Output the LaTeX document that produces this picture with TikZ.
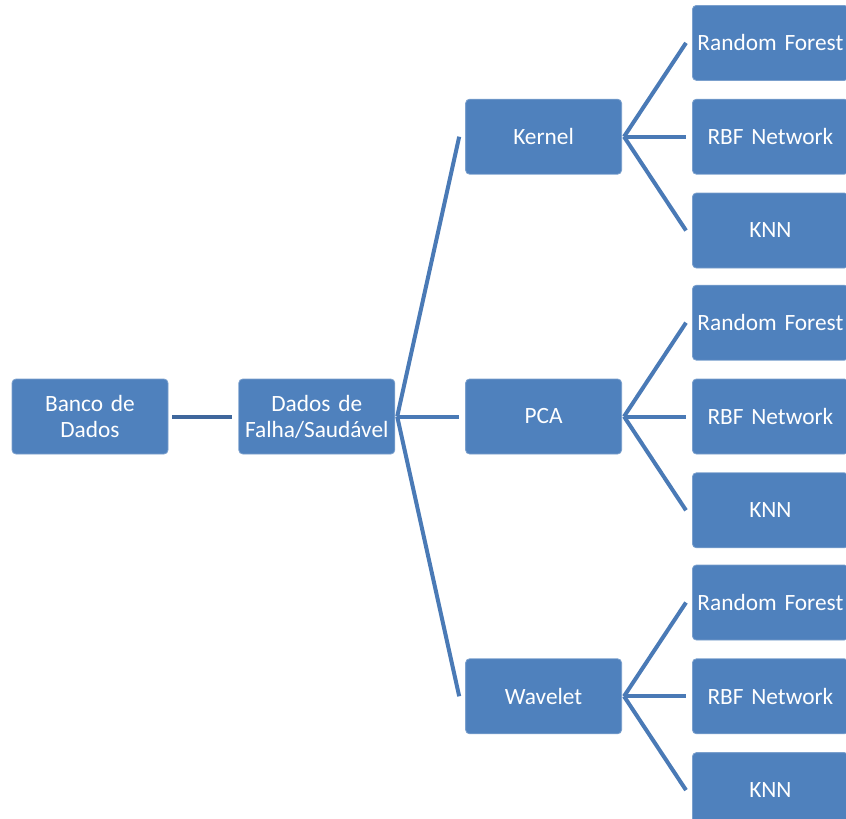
\documentclass[tikz,border=0pt]{standalone}
\usepackage{fontspec}
\setmainfont{Carlito}
\usetikzlibrary{positioning}
\definecolor{boxblue}{HTML}{4F81BD}
\definecolor{forkblue}{HTML}{4A7AB6}
\definecolor{rootblue}{HTML}{3F679C}
\tikzset{
	etapa/.style={
		rectangle,
		rounded corners=3pt,
		fill=boxblue,
		draw=boxblue!75!white, line width=0.6pt,
		text=white,
		font=\fontsize{17.5}{19.5}\selectfont,
		inner xsep=1pt, inner ysep=0pt,
		text width=115pt,
		minimum height=56.25pt,
		align=center},
	ramo/.style={draw=forkblue, line width=3pt},
	tronco/.style={draw=rootblue, line width=3pt},
}

\begin{document}
\begin{tikzpicture}
[x=0.75pt, y=-0.75pt,
node distance=13.5pt and 52.5pt]
\clip (0,0) rectangle (846,818);
\useasboundingbox (0,0) rectangle (846,818);

\node[etapa] (banco) at (90,416.5) {Banco de\\Dados};
\node[etapa, right=of banco] (dados) {Dados de\\Falha/Saudável};

% extracao de caracteristicas
\node[etapa, right=of dados] (pca) {PCA};
\node[etapa, above=153pt of pca] (kernel) {Kernel};
\node[etapa, below=153pt of pca] (wavelet) {Wavelet};

% classificadores
\node[etapa, right=of kernel] (rbfK) {RBF Network};
\node[etapa, above=of rbfK] (rfK) {Random Forest};
\node[etapa, below=of rbfK] (knnK) {KNN};
\node[etapa, right=of pca] (rbfP) {RBF Network};
\node[etapa, above=of rbfP] (rfP) {Random Forest};
\node[etapa, below=of rbfP] (knnP) {KNN};
\node[etapa, right=of wavelet] (rbfW) {RBF Network};
\node[etapa, above=of rbfW] (rfW) {Random Forest};
\node[etapa, below=of rbfW] (knnW) {KNN};

\draw[tronco] ([xshift=3pt]banco.east) -- ([xshift=-4.5pt]dados.east -| dados.west);
\draw[ramo] ([xshift=1.5pt]dados.east) -- ([xshift=-4.5pt]kernel.west);
\draw[ramo] ([xshift=1.5pt]dados.east) -- ([xshift=-4.5pt]pca.west);
\draw[ramo] ([xshift=1.5pt]dados.east) -- ([xshift=-4.5pt]wavelet.west);

\draw[ramo] ([xshift=1.5pt]kernel.east) -- ([xshift=-4.5pt]rfK.west);
\draw[ramo] ([xshift=1.5pt]kernel.east) -- ([xshift=-4.5pt]rbfK.west);
\draw[ramo] ([xshift=1.5pt]kernel.east) -- ([xshift=-4.5pt]knnK.west);
\draw[ramo] ([xshift=1.5pt]pca.east) -- ([xshift=-4.5pt]rfP.west);
\draw[ramo] ([xshift=1.5pt]pca.east) -- ([xshift=-4.5pt]rbfP.west);
\draw[ramo] ([xshift=1.5pt]pca.east) -- ([xshift=-4.5pt]knnP.west);
\draw[ramo] ([xshift=1.5pt]wavelet.east) -- ([xshift=-4.5pt]rfW.west);
\draw[ramo] ([xshift=1.5pt]wavelet.east) -- ([xshift=-4.5pt]rbfW.west);
\draw[ramo] ([xshift=1.5pt]wavelet.east) -- ([xshift=-4.5pt]knnW.west);
\end{tikzpicture}
\end{document}
